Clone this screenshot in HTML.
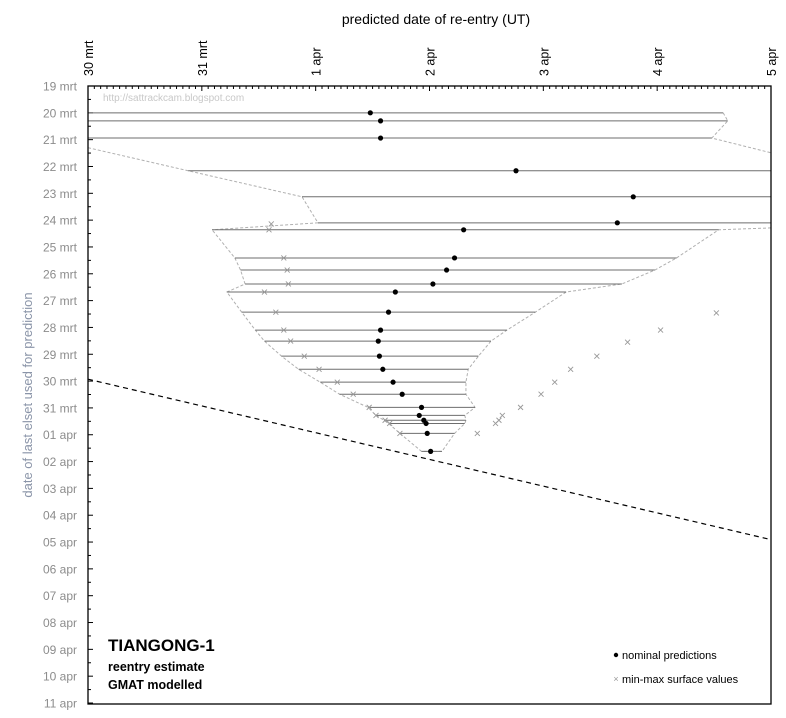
<!DOCTYPE html>
<html><head><meta charset="utf-8">
<style>
html,body{margin:0;padding:0;background:#fff;}
svg{display:block;font-family:"Liberation Sans",sans-serif;}
</style></head>
<body>
<svg id="chart" width="786" height="718" viewBox="0 0 786 718" xmlns="http://www.w3.org/2000/svg">
<rect x="0" y="0" width="786" height="718" fill="#fff"/>
<text x="436" y="24" font-size="14" text-anchor="middle" fill="#000">predicted date of re-entry  (UT)</text>
<text transform="translate(32,395) rotate(-90)" font-size="13" text-anchor="middle" fill="#8a94a8">date of last elset used for prediction</text>
<text x="103" y="101" font-size="10" fill="#c8c8c8">http://sattrackcam.blogspot.com</text>
<g id="marks"></g>
<rect x="88" y="86" width="683" height="618" fill="none" stroke="#000" stroke-width="1.3"/>
<g font-weight="bold" fill="#000">
<text x="108" y="651" font-size="17">TIANGONG-1</text>
<text x="108" y="671" font-size="12.5">reentry estimate</text>
<text x="108" y="689" font-size="12.5">GMAT modelled</text>
</g>
<g font-size="11" fill="#000">
<circle cx="616" cy="655" r="2.2" fill="#000"/>
<text x="622" y="659">nominal predictions</text>
<text x="616" y="682" font-size="9" fill="#999" text-anchor="middle">×</text>
<text x="622" y="683">min-max surface values</text>
</g>
</svg>
<script>
// x: days since 30 mrt 00:00 UT ; y: days since 19 mrt 00:00
const xTickLabels = ["30 mrt","31 mrt","1 apr","2 apr","3 apr","4 apr","5 apr"];
const yTickLabels = ["19 mrt","20 mrt","21 mrt","22 mrt","23 mrt","24 mrt","25 mrt","26 mrt","27 mrt","28 mrt","29 mrt","30 mrt","31 mrt","01 apr","02 apr","03 apr","04 apr","05 apr","06 apr","07 apr","08 apr","09 apr","10 apr","11 apr"];
const rowY = [1.00,1.30,1.94,3.16,4.13,5.10,5.36,6.41,6.86,7.38,7.68,8.43,9.10,9.51,10.07,10.56,11.04,11.49,11.98,12.28,12.46,12.58,12.95,13.62];
const nominalX = [2.48,2.57,2.57,3.76,4.79,4.65,3.30,3.22,3.15,3.03,2.70,2.64,2.57,2.55,2.56,2.59,2.68,2.76,2.93,2.91,2.95,2.97,2.98,3.01];
const rowLeft = [0,0,0,0.88,1.88,2.02,1.09,1.29,1.34,1.38,1.22,1.35,1.47,1.55,1.70,1.85,2.04,2.21,2.46,2.53,2.60,2.64,2.74,2.93];
const rowRight = [5.58,5.62,5.48,6,6,6,5.54,5.17,4.98,4.69,4.20,3.93,3.68,3.54,3.43,3.34,3.32,3.32,3.40,3.31,3.32,3.31,3.22,3.11];
const minX = [1.61,1.59,1.72,1.75,1.76,1.55,1.65,1.72,1.78,1.90,2.03,2.19,2.33,2.47,2.53,2.61,2.65,2.74];
const minY = [5.14,5.36,6.41,6.86,7.38,7.68,8.43,9.10,9.51,10.07,10.56,11.04,11.49,11.98,12.28,12.46,12.58,12.95];
const maxX = [5.52,5.03,4.74,4.47,4.24,4.10,3.98,3.80,3.64,3.61,3.58,3.42];
const maxY = [8.46,9.10,9.55,10.07,10.56,11.04,11.49,11.98,12.28,12.46,12.58,12.95];
const envUpperX = [5.58,5.62,5.48,6];
const envUpperY = [1.00,1.30,1.94,2.49];
const envLeftTopX = [0,0.88,1.88,2.02,1.09];
const envLeftTopY = [2.30,3.16,4.13,5.10,5.36];
const envLowX = [6,5.54,5.17,4.98,4.69,4.20,3.93,3.68,3.54,3.43,3.34,3.32,3.32,3.40,3.31,3.32,3.31,3.22,3.11,2.93,2.74,2.64,2.60,2.53,2.46,2.21,2.04,1.85,1.70,1.55,1.47,1.35,1.22,1.38,1.34,1.29,1.09];
const envLowY = [5.29,5.36,6.41,6.86,7.38,7.68,8.43,9.10,9.51,10.07,10.56,11.04,11.49,11.98,12.28,12.46,12.58,12.95,13.62,13.62,12.95,12.58,12.46,12.28,11.98,11.49,11.04,10.56,10.07,9.51,9.10,8.43,7.68,7.38,6.86,6.41,5.36];
const refLineX = [0,6];
const refLineY = [10.93,16.91];

const X0=88, X1=771, Y0=86, Y1=703;
const sx = d => X0 + d*(X1-X0)/6;
const sy = d => Y0 + d*(Y1-Y0)/23;
const NS="http://www.w3.org/2000/svg";
const svg=document.getElementById('chart');
const g=document.getElementById('marks');
function mk(tag,attrs,parent){const e=document.createElementNS(NS,tag);for(const k in attrs)e.setAttribute(k,attrs[k]);(parent||g).appendChild(e);return e;}

for(let i=0;i<=6*18;i++){
  const x=sx(i/18), major=i%18===0;
  const t=mk('line',{x1:x,y1:Y0,x2:x,y2:Y0+(major?5:3),stroke:'#000','stroke-width':1});
  
  
}
xTickLabels.forEach((lab,i)=>{
  const t=mk('text',{transform:`translate(${sx(i)+5},76) rotate(-90)`,'font-size':12.5,fill:'#000'},svg);
  t.textContent=lab;
  
  
});
for(let i=0;i<=46;i++){
  const y=sy(i/2);
  const t=mk('line',{x1:X0,y1:y,x2:X0+(i%2===0?5:3),y2:y,stroke:'#000','stroke-width':1});
  
  
}
yTickLabels.forEach((lab,i)=>{
  const t=mk('text',{x:77,y:sy(i)+4.5,'font-size':12,fill:'#8c8c8c','text-anchor':'end'},svg);
  t.textContent=lab;
  
  
});
function poly(xs,ys,name){
  const p=mk('polyline',{points:xs.map((x,i)=>sx(x)+','+sy(ys[i])).join(' '),fill:'none',stroke:'#b0b0b0','stroke-width':1,'stroke-dasharray':'3,2'});
  
  
}
poly(envUpperX,envUpperY,'envelope-upper-right');
poly(envLeftTopX,envLeftTopY,'envelope-upper-left');
poly(envLowX,envLowY,'envelope-lower');
rowY.forEach((y,i)=>{
  const l=mk('line',{x1:sx(rowLeft[i]),y1:sy(y),x2:sx(rowRight[i]),y2:sy(y),stroke:'#6e6e6e','stroke-width':1});
  
  
});
const rl=mk('line',{x1:sx(refLineX[0]),y1:sy(refLineY[0]),x2:sx(refLineX[1]),y2:sy(refLineY[1]),stroke:'#000','stroke-width':1.2,'stroke-dasharray':'5,4'});


function cross(x,y,name){
  const cx=sx(x), cy=sy(y), s=2.5;
  const p=mk('path',{d:`M${cx-s},${cy-s}L${cx+s},${cy+s}M${cx-s},${cy+s}L${cx+s},${cy-s}`,stroke:'#999','stroke-width':0.9,fill:'none'});
  
  
}
minX.forEach((x,i)=>cross(x,minY[i],'min-cross'));
maxX.forEach((x,i)=>cross(x,maxY[i],'max-cross'));
nominalX.forEach((x,i)=>{
  const c=mk('circle',{cx:sx(x),cy:sy(rowY[i]),r:2.6,fill:'#000'});
  
  
});
</script>
</body></html>
